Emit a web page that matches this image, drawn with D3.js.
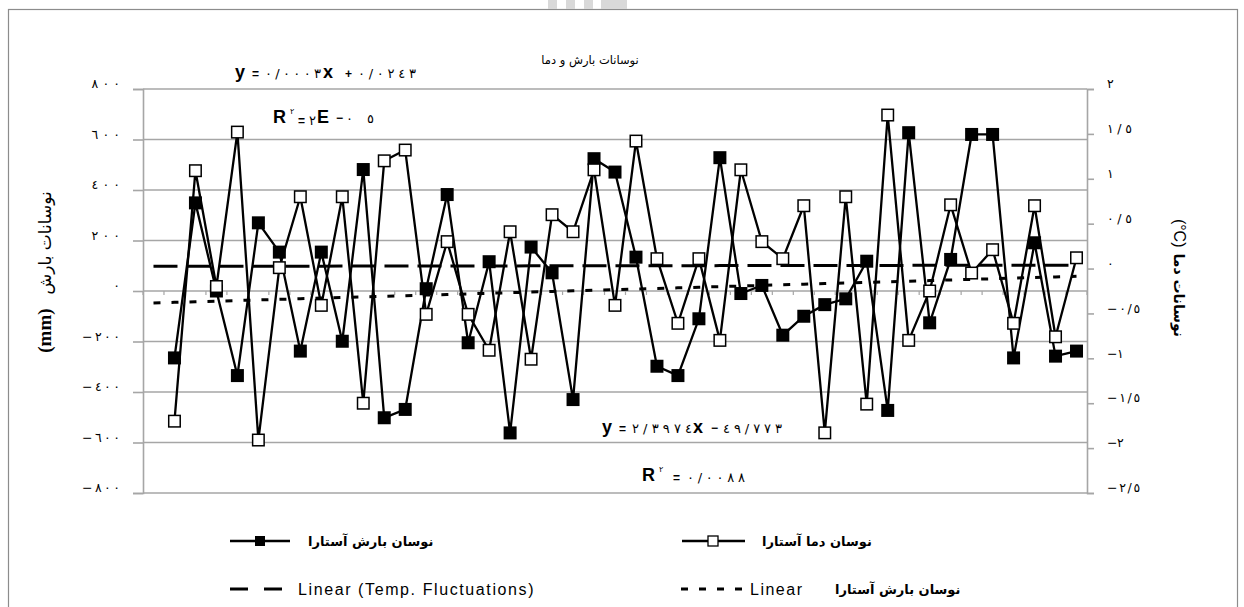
<!DOCTYPE html>
<html><head><meta charset="utf-8">
<script src="https://cdn.jsdelivr.net/npm/d3@7"></script>
<style>
html,body{margin:0;padding:0;background:#fff;}
svg{display:block;}
text{font-family:"Liberation Sans","DejaVu Sans",sans-serif;}
.eq{unicode-bidi:bidi-override;direction:ltr;}
</style></head>
<body>
<svg id="chart" width="1244" height="607"></svg>
<script>
// ---- data ----
const categories = [1,2,3,4,5,6,7,8,9,10,11,12,13,14,15,16,17,18,19,20,21,22,23,24,25,26,27,28,29,30,31,32,33,34,35,36,37,38,39,40,41,42,43,44,45];
const precipValues = [null,-265,349,0,-335,270,154,-238,154,-199,481,-502,-469,9,382,-205,116,-562,174,72,-430,524,471,134,-298,-335,-110,528,-10,22,-175,-100,-54,-31,118,-473,627,-126,125,620,620,-265,191,-258,-238];
const tempValues = [null,-1.70,1.09,-0.20,1.52,-1.91,0.01,0.80,-0.41,0.80,-1.50,1.20,1.32,-0.51,0.30,-0.51,-0.91,0.41,-1.01,0.60,0.41,1.10,-0.41,1.42,0.11,-0.61,0.11,-0.80,1.10,0.30,0.11,0.70,-1.83,0.80,-1.51,1.71,-0.80,-0.25,0.71,-0.05,0.21,-0.61,0.70,-0.76,0.12];
const leftTicks = [-800,-600,-400,-200,0,200,400,600,800];
const rightTicks = [-2.5,-2,-1.5,-1,-0.5,0,0.5,1,1.5,2];
const precipTrend = [2.3974,-49.773];   // slope, intercept
const tempTrend = [0.0003,0.0243];
const precipR2 = "0/0088";
const tempR2 = ["2","05"];             // 2E-05
const titleText = "نوسانات بارش و دما";
const leftTitle = "نوسانات بارش";
const rightTitle = "نوسانات دما";
const seriesNames = ["نوسان بارش آستارا","نوسان دما آستارا"];

// ---- helpers ----
const digits = "٠١٢٣٤٥٦٧٨٩";
function faStr(s){ return String(s).replace(/\./g,"/").replace(/[0-9]/g, d => digits[+d]); }
function fa(n){ return (n < 0 ? "\u2212" : "") + faStr(Math.abs(n)); }

const svg = d3.select("#chart");
const L = 143, R = 1087, T = 89, B = 493;

const x = d3.scaleBand().domain(categories).range([L, R]).padding(0);
const cx = c => x(c) + x.bandwidth()/2;
const yL = d3.scaleLinear().domain([-800, 800]).range([B, T]);
const yR = d3.scaleLinear().domain([-2.5, 2]).range([B, T]);

// outer frame
svg.append("rect").attr("x",8.5).attr("y",9.5).attr("width",1229).attr("height",640)
  .attr("fill","none").attr("stroke","#8c8c8c").attr("stroke-width",1.2);
// faint artifacts at top
[[548,0,9,9],[566,0,9,9],[584,0,9,9],[601,0,26,9]].forEach(r=>{
  svg.append("rect").attr("x",r[0]).attr("y",r[1]).attr("width",r[2]).attr("height",r[3]).attr("fill","#d9d9d9");
});

// gridlines
svg.append("g").selectAll("line").data(leftTicks).join("line")
  .attr("x1",L).attr("x2",R).attr("y1",d=>yL(d)).attr("y2",d=>yL(d))
  .attr("stroke","#a6a6a6").attr("stroke-width",1.6);

// left axis
const gL = svg.append("g").attr("transform",`translate(${L},0)`)
  .call(d3.axisLeft(yL).tickValues(leftTicks).tickSize(10).tickFormat(fa));
gL.select(".domain").attr("stroke","#a6a6a6").attr("stroke-width",1.6);
gL.selectAll(".tick line").attr("stroke","#a6a6a6").attr("stroke-width",1.6);
gL.selectAll(".tick text").attr("class","eq").attr("x",-23).attr("dy","-0.1em")
  .style("font-family","DejaVu Sans").style("font-size","12.5px").attr("fill","#000")
  .each(function(d){ const n = fa(d).length; if (n>1) d3.select(this).attr("textLength", 9.5*n).attr("lengthAdjust","spacing"); });

// right axis
const gR = svg.append("g").attr("transform",`translate(${R},0)`)
  .call(d3.axisRight(yR).tickValues(rightTicks).tickSize(7).tickFormat(fa));
gR.select(".domain").attr("stroke","#a6a6a6").attr("stroke-width",1.6);
gR.selectAll(".tick text").attr("class","eq").attr("x",20).attr("dy","-0.1em")
  .style("font-family","DejaVu Sans").style("font-size","12.5px").attr("fill","#000")
  .each(function(d){ const n = fa(d).length; if (n>1) d3.select(this).attr("textLength", 8.3*n).attr("lengthAdjust","spacing"); });
gR.selectAll(".tick line").attr("stroke","#a6a6a6").attr("stroke-width",1.6);

// category ticks on the zero line
svg.append("g").selectAll("line").data(categories.concat(["end"])).join("line")
  .attr("x1",d=> d==="end" ? R : x(d)).attr("x2",d=> d==="end" ? R : x(d))
  .attr("y1",yL(0)).attr("y2",yL(0)+4).attr("stroke","#a6a6a6").attr("stroke-width",1.2);

// trendlines
const trendP = categories.map((c,i)=>({c, v: precipTrend[0]*(i+1)+precipTrend[1]}));
const trendT = categories.map((c,i)=>({c, v: tempTrend[0]*(i+1)+tempTrend[1]}));
svg.append("path").datum(trendT)
  .attr("d", d3.line().x(d=>cx(d.c)).y(d=>yR(d.v)))
  .attr("fill","none").attr("stroke","#000").attr("stroke-width",3).attr("stroke-dasharray","24,9");
svg.append("path").datum(trendP)
  .attr("d", d3.line().x(d=>cx(d.c)).y(d=>yL(d.v)))
  .attr("fill","none").attr("stroke","#000").attr("stroke-width",3).attr("stroke-dasharray","7,11");

// series
const pData = categories.map((c,i)=>({c, v: precipValues[i]})).filter(d=>d.v!==null);
const tData = categories.map((c,i)=>({c, v: tempValues[i]})).filter(d=>d.v!==null);
const ms = 13;
svg.append("path").datum(pData)
  .attr("d", d3.line().x(d=>cx(d.c)).y(d=>yL(d.v)))
  .attr("fill","none").attr("stroke","#000").attr("stroke-width",2.3);
svg.append("g").selectAll("rect").data(pData).join("rect")
  .attr("x",d=>cx(d.c)-ms/2).attr("y",d=>yL(d.v)-ms/2).attr("width",ms).attr("height",ms)
  .attr("fill","#000");
svg.append("path").datum(tData)
  .attr("d", d3.line().x(d=>cx(d.c)).y(d=>yR(d.v)))
  .attr("fill","none").attr("stroke","#000").attr("stroke-width",2.3);
svg.append("g").selectAll("rect").data(tData).join("rect")
  .attr("x",d=>cx(d.c)-(ms-1.5)/2).attr("y",d=>yR(d.v)-(ms-1.5)/2).attr("width",ms-1.5).attr("height",ms-1.5)
  .attr("fill","#fff").attr("stroke","#000").attr("stroke-width",1.5);

// title
svg.append("text").attr("x",590).attr("y",64).attr("text-anchor","middle")
  .style("font-family","DejaVu Sans").style("font-size","11.5px").text(titleText);

// axis titles
const lt = svg.append("text").attr("transform","translate(51,272) rotate(-90)")
  .attr("text-anchor","middle").attr("direction","ltr");
lt.append("tspan").style("font-family","Liberation Serif").style("font-weight","bold").style("font-size","19px").text("(mm)");
lt.append("tspan").attr("dx",14).style("font-family","DejaVu Sans").style("font-size","17px").text(leftTitle);

const rt = svg.append("text").attr("transform","translate(1174,278) rotate(90)")
  .attr("text-anchor","middle").attr("direction","ltr");
rt.append("tspan").style("font-family","Liberation Sans").style("font-size","16px").text("(°C)");
rt.append("tspan").attr("dx",6).style("font-family","DejaVu Sans").style("font-size","14px").style("font-weight","bold").text(rightTitle);

// equations (pieces: text, x, y, kind, textLength)
function piece(str, xp, yp, kind, tl){
  const t = svg.append("text").attr("class","eq").attr("x",xp).attr("y",yp).text(str);
  if (kind==="b") t.style("font-family","Liberation Sans").style("font-weight","bold").style("font-size","18px");
  else if (kind==="sup") t.style("font-family","DejaVu Sans").style("font-size","8px");
  else if (kind==="op") t.style("font-family","Liberation Sans").style("font-weight","bold").style("font-size","12px");
  else t.style("font-family","DejaVu Sans").style("font-size","13px");
  if (tl) t.attr("textLength",tl).attr("lengthAdjust","spacing");
  return t;
}
// temperature trend:  y = 0.0003x + 0.0243
piece("y",235,78,"b"); piece("=",252,78,"op");
piece(faStr(tempTrend[0]),265,78,"n",56);
piece("x",323,78,"b"); piece("+",345,78,"op");
piece(faStr(tempTrend[1]),358,78,"n",58);
// R2 = 2E-05
piece("R",273,123,"b"); piece(faStr("2"),290,114,"sup"); piece("=",298,125,"op");
piece(faStr(tempR2[0]),309,125,"n"); piece("E",317,123,"b"); piece("\u2212",336,122,"op");
piece(faStr(tempR2[1]),346,123,"n",28);
// precipitation trend: y = 2.3974x - 49.773
piece("y",602,433,"b"); piece("=",619,433,"op");
piece(faStr(precipTrend[0]),632,433,"n",60);
piece("x",693,433,"b"); piece("\u2212",711,432,"op");
piece(faStr(Math.abs(precipTrend[1])),723,433,"n",59);
// R2 = 0.0088
piece("R",642,481,"b"); piece(faStr("2"),659,472,"sup"); piece("=",673,482,"op");
piece(faStr(precipR2),687,482,"n",58);

// legend
const lg = svg.append("g");
lg.append("line").attr("x1",230).attr("x2",290).attr("y1",541).attr("y2",541).attr("stroke","#000").attr("stroke-width",2.5);
lg.append("rect").attr("x",255).attr("y",536).attr("width",10).attr("height",10).attr("fill","#000");
lg.append("text").attr("x",308).attr("y",546).style("font-family","DejaVu Sans").style("font-weight","bold").style("font-size","13px").text(seriesNames[0]);
lg.append("line").attr("x1",682).attr("x2",745).attr("y1",541).attr("y2",541).attr("stroke","#000").attr("stroke-width",2.5);
lg.append("rect").attr("x",708).attr("y",536).attr("width",10).attr("height",10).attr("fill","#fff").attr("stroke","#000").attr("stroke-width",1.3);
lg.append("text").attr("x",762).attr("y",546).style("font-family","DejaVu Sans").style("font-weight","bold").style("font-size","13px").text(seriesNames[1]);
lg.append("line").attr("x1",230).attr("x2",284).attr("y1",589).attr("y2",589).attr("stroke","#000").attr("stroke-width",3).attr("stroke-dasharray","18,16");
lg.append("text").attr("x",298).attr("y",595).style("font-size","16px").attr("letter-spacing","1.6px").text("Linear (Temp. Fluctuations)");
lg.append("line").attr("x1",681).attr("x2",745).attr("y1",589).attr("y2",589).attr("stroke","#000").attr("stroke-width",3).attr("stroke-dasharray","7,11");
lg.append("text").attr("x",750).attr("y",595).style("font-size","16px").attr("letter-spacing","1.5px").text("Linear");
lg.append("text").attr("x",835).attr("y",594).style("font-family","DejaVu Sans").style("font-weight","bold").style("font-size","13px").text(seriesNames[0]);
</script>
</body></html>
